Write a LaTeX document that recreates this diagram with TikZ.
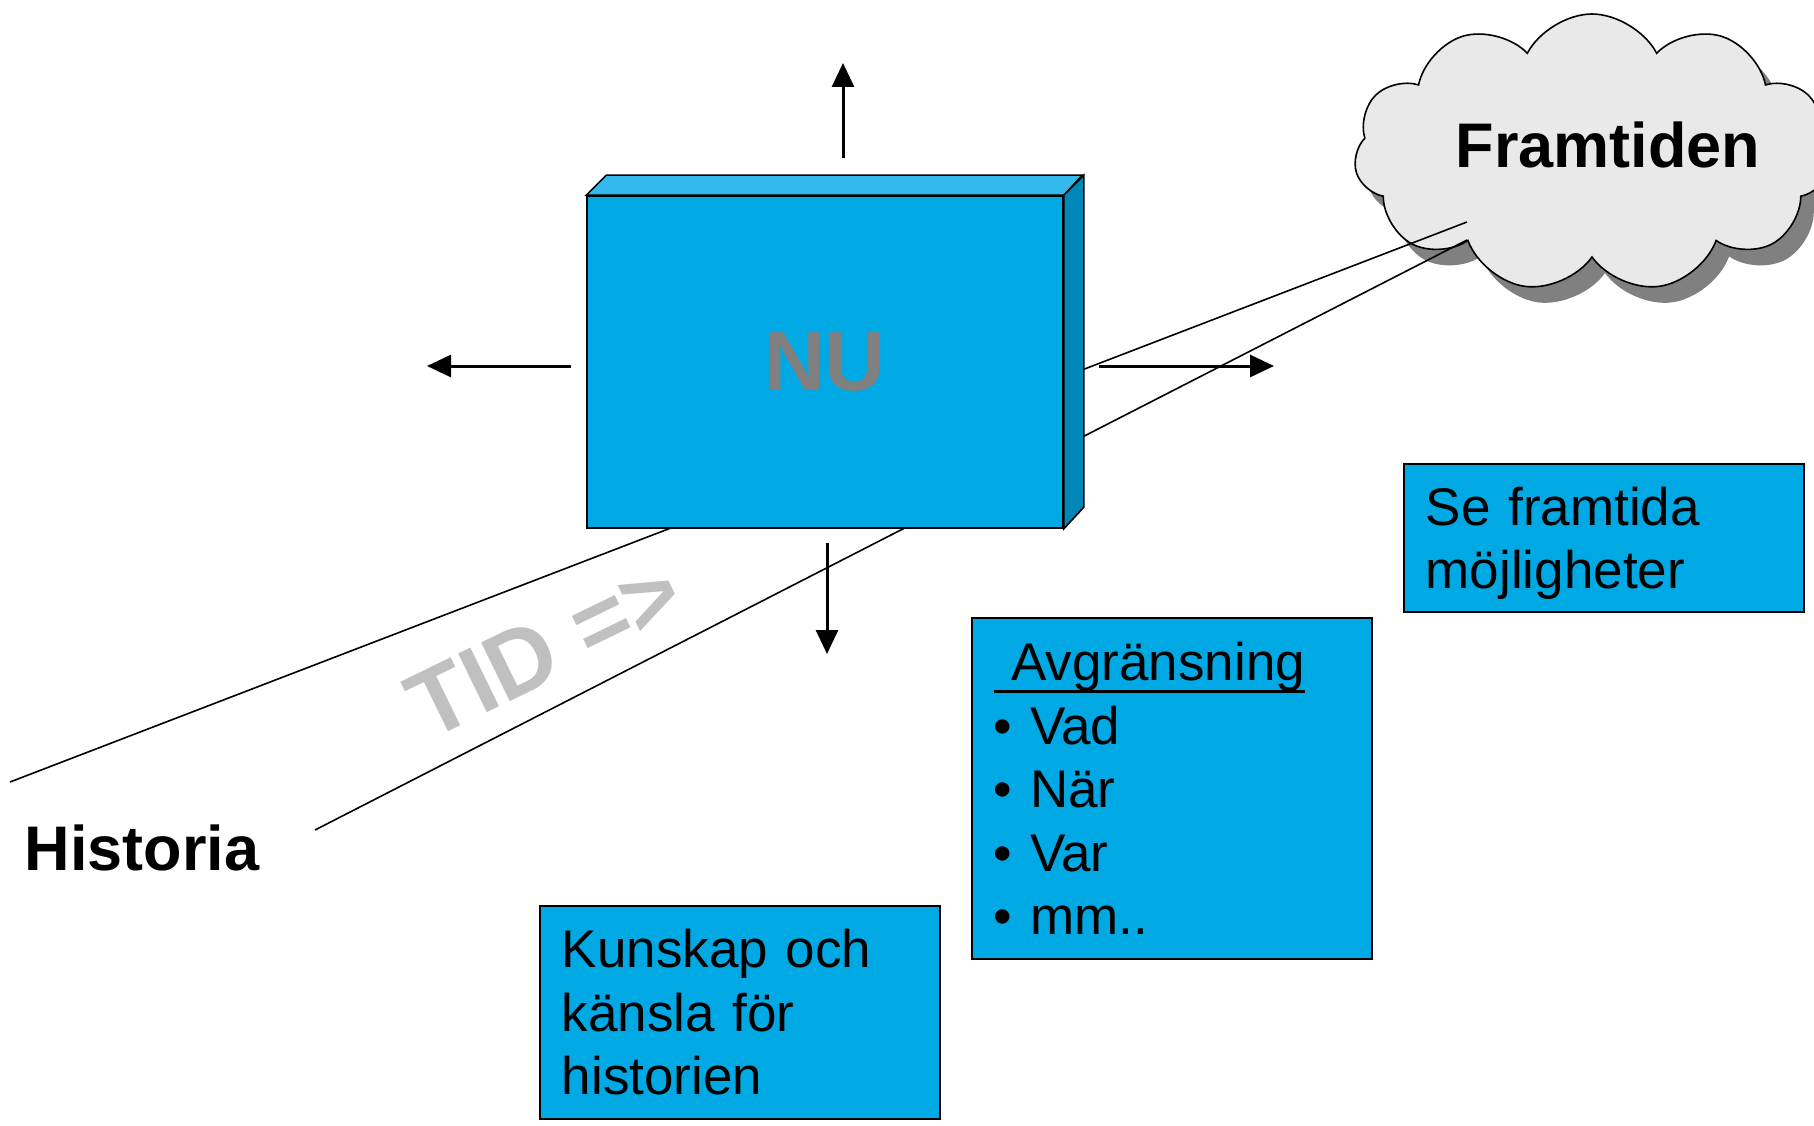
\documentclass[tikz,border=0pt]{standalone}
\usepackage{fontspec}
\setmainfont{Liberation Sans}
\usetikzlibrary{arrows.meta,shapes.symbols,shadows,positioning}

\definecolor{boxblue}{HTML}{00A8E4}
\definecolor{boxtop}{HTML}{33B9EC}
\definecolor{boxside}{HTML}{0087B8}
\definecolor{cloudgray}{HTML}{E9E9E9}
\definecolor{nugray}{HTML}{808080}
\definecolor{tidgray}{HTML}{C0C0C0}

\newcommand{\thickul}[1]{\setbox0\hbox{#1}\rlap{\rule[-12pt]{\wd0}{3pt}}\box0}

\begin{document}
\begin{tikzpicture}[x=1pt,y=-1pt,
  arr/.style={line width=3pt,-{Triangle[length=24pt,width=22pt]}},
  infobox/.style={draw=black,line width=1.6pt,fill=boxblue,anchor=north west,
    align=left,text width=356pt,inner xsep=22pt,inner ysep=0pt,
    font=\fontsize{53}{63.5}\selectfont},
  bigtext/.style={font=\bfseries\fontsize{63}{70}\selectfont},
  thinline/.style={line width=1.6pt}]
\useasboundingbox (0,0) rectangle (1814,1126);

% molnet
\node[cloud,cloud puffs=11,cloud puff arc=125,aspect=1.7,draw=black,thinline,
  fill=cloudgray,minimum width=476pt,minimum height=278pt,
  drop shadow={shadow xshift=13pt,shadow yshift=-16pt,fill=nugray,opacity=1}]
  (framtid) at (1592,153) {};
\node[bigtext] (framtidtext) at (1608,145) {Framtiden};

% tidslinjerna
\coordinate (hist1) at (10,782);
\coordinate (hist2) at (315,830);
\coordinate (fram1) at (1467,222);
\coordinate (fram2) at (1467,240);
\draw[thinline] (hist1) -- (fram1);
\draw[thinline] (hist2) -- (fram2);

% NU-lådan
\node[draw=black,thinline,fill=boxblue,minimum width=476pt,minimum height=332pt,
  font=\bfseries\fontsize{84}{90}\selectfont,text=nugray] (nu) at (825,362) {NU};
\draw[thinline,fill=boxtop] (nu.north west) -- ++(20,-20) -- ++(476,0)
  -- (nu.north east) -- cycle;
\draw[thinline,fill=boxside] (nu.north east) -- ++(20,-20) -- ++(0,332)
  -- (nu.south east) -- cycle;

% pilar
\coordinate (upstart) at (843,158);
\coordinate (upend) at (843,63);
\coordinate (leftstart) at (571,366);
\coordinate (leftend) at (427,366);
\coordinate (rightstart) at (1099,366);
\coordinate (rightend) at (1274,366);
\coordinate (downstart) at (827,543);
\coordinate (downend) at (827,654);
\draw[arr] (upstart) -- (upend);
\draw[arr] (leftstart) -- (leftend);
\draw[arr] (rightstart) -- (rightend);
\draw[arr] (downstart) -- (downend);

% texter
\node[bigtext,anchor=base west] (historia) at (21,870) {Historia};
\node[font=\bfseries\fontsize{95}{100}\selectfont,text=tidgray,rotate=26]
  (tid) at (545,648) {TID =>};

\node[infobox,minimum height=148pt] (framtida) at (1403,463)
  {Se framtida\\\smash{möjligheter}};
\node[infobox,minimum height=341pt] (avgr) at (971,617)
  {\thickul{\ Avgränsning}\\• Vad\\• När\\• Var\\• mm..};
\node[infobox,minimum height=213pt] (kunskap) at (539,905)
  {Kunskap och\\känsla för\\historien};
\end{tikzpicture}
\end{document}
